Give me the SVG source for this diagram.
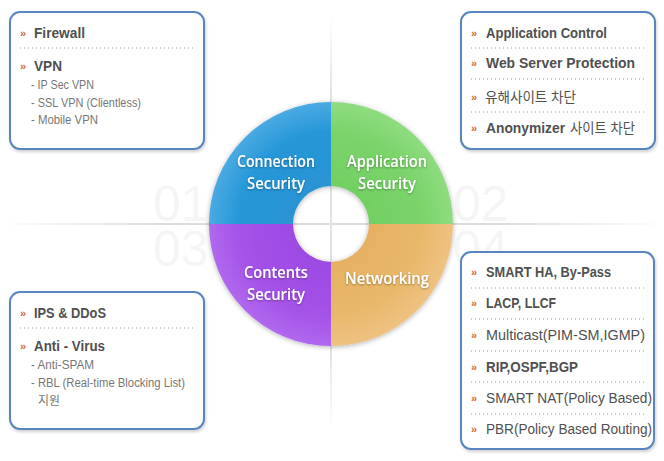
<svg xmlns="http://www.w3.org/2000/svg" width="664" height="461" viewBox="0 0 664 461">
<style>
.box{fill:#fff;stroke:#5a86bf;stroke-width:2}
.dot{stroke:#9a9a9a;stroke-width:1;stroke-dasharray:1 3}
.chev{font-family:"Liberation Sans",sans-serif;font-size:11px;font-weight:bold;fill:#d06a3a}
.m{font-family:"Liberation Sans","Noto Sans CJK KR",sans-serif;font-size:14px;font-weight:bold;fill:#505050}
.r{font-family:"Liberation Sans","Noto Sans CJK KR",sans-serif;font-size:14px;fill:#505050}
.s{font-family:"Liberation Sans","Noto Sans CJK KR",sans-serif;font-size:12.5px;fill:#777}
.q{font-family:"Open Sans","Liberation Sans",sans-serif;font-size:17px;font-weight:600;fill:#fff;text-anchor:middle}
.wm{font-family:"Liberation Sans",sans-serif;font-size:50px;fill:#f5f5f5}
</style>
<defs>
<filter id="sh" x="-10%" y="-10%" width="120%" height="125%">
<feDropShadow dx="1" dy="2" stdDeviation="1.5" flood-color="#000" flood-opacity="0.18"/>
</filter>
<filter id="csh" x="-10%" y="-10%" width="120%" height="120%">
<feDropShadow dx="0" dy="1" stdDeviation="2.5" flood-color="#000" flood-opacity="0.3"/>
</filter>
<filter id="tsh" x="-10%" y="-20%" width="120%" height="140%">
<feDropShadow dx="0" dy="1" stdDeviation="0.8" flood-color="#000" flood-opacity="0.35"/>
</filter>
<linearGradient id="hl" x1="0" y1="0" x2="664" y2="0" gradientUnits="userSpaceOnUse">
<stop offset="0" stop-color="#dcdcdc" stop-opacity="0"/>
<stop offset="0.25" stop-color="#dcdcdc"/>
<stop offset="0.75" stop-color="#dcdcdc"/>
<stop offset="1" stop-color="#dcdcdc" stop-opacity="0"/>
</linearGradient>
<linearGradient id="vl" x1="0" y1="15" x2="0" y2="430" gradientUnits="userSpaceOnUse">
<stop offset="0" stop-color="#e2e2e2" stop-opacity="0"/>
<stop offset="0.2" stop-color="#e2e2e2"/>
<stop offset="0.8" stop-color="#e2e2e2"/>
<stop offset="1" stop-color="#e2e2e2" stop-opacity="0"/>
</linearGradient>
<radialGradient id="gb" cx="331" cy="224" r="122" gradientUnits="userSpaceOnUse">
<stop offset="0.3" stop-color="#2a93d4"/><stop offset="0.75" stop-color="#2597d8"/><stop offset="1" stop-color="#4aaae2"/>
</radialGradient>
<radialGradient id="gg" cx="331" cy="224" r="122" gradientUnits="userSpaceOnUse">
<stop offset="0.3" stop-color="#72cf63"/><stop offset="0.75" stop-color="#7bd46b"/><stop offset="1" stop-color="#8fdc80"/>
</radialGradient>
<radialGradient id="gp" cx="331" cy="224" r="122" gradientUnits="userSpaceOnUse">
<stop offset="0.3" stop-color="#9d4ae3"/><stop offset="0.75" stop-color="#a452e8"/><stop offset="1" stop-color="#b068ee"/>
</radialGradient>
<radialGradient id="go" cx="331" cy="224" r="122" gradientUnits="userSpaceOnUse">
<stop offset="0.3" stop-color="#e6b062"/><stop offset="0.75" stop-color="#e9b86b"/><stop offset="1" stop-color="#eec282"/>
</radialGradient>
</defs>
<rect width="664" height="461" fill="#fff"/>
<g id="background">
<text class="wm" x="153" y="221">01</text>
<text class="wm" x="153" y="266">03</text>
<text class="wm" x="453" y="221">02</text>
<text class="wm" x="453" y="266">04</text>
<rect x="10" y="223" width="654" height="2" fill="url(#hl)"/>
<rect x="330" y="15" width="2" height="415" fill="url(#vl)"/>
</g>
<g id="ring" filter="url(#csh)">
<path d="M209,224 A122,122 0 0 1 331,102 L331,186 A38,38 0 0 0 293,224 Z" fill="url(#gb)"/>
<path d="M331,102 A122,122 0 0 1 453,224 L369,224 A38,38 0 0 0 331,186 Z" fill="url(#gg)"/>
<path d="M453,224 A122,122 0 0 1 331,346 L331,262 A38,38 0 0 0 369,224 Z" fill="url(#go)"/>
<path d="M331,346 A122,122 0 0 1 209,224 L293,224 A38,38 0 0 0 331,262 Z" fill="url(#gp)"/>
</g>
<g id="ring-labels" filter="url(#tsh)">
<text class="q" x="276" y="167" textLength="78" lengthAdjust="spacingAndGlyphs">Connection</text>
<text class="q" x="276" y="189" textLength="58" lengthAdjust="spacingAndGlyphs">Security</text>
<text class="q" x="387" y="167" textLength="80" lengthAdjust="spacingAndGlyphs">Application</text>
<text class="q" x="387" y="189" textLength="58" lengthAdjust="spacingAndGlyphs">Security</text>
<text class="q" x="276" y="278" textLength="64" lengthAdjust="spacingAndGlyphs">Contents</text>
<text class="q" x="276" y="300" textLength="58" lengthAdjust="spacingAndGlyphs">Security</text>
<text class="q" x="387" y="284" textLength="84" lengthAdjust="spacingAndGlyphs">Networking</text>
</g>
<g id="box-connection">
<rect class="box" x="10" y="12" width="194" height="137" rx="10" filter="url(#sh)"/>
<text class="chev" x="20" y="37">»</text>
<text class="m" x="34" y="38" textLength="51" lengthAdjust="spacingAndGlyphs">Firewall</text>
<line class="dot" x1="20" y1="48" x2="194" y2="48"/>
<text class="chev" x="20" y="70">»</text>
<text class="m" x="34" y="71" textLength="28" lengthAdjust="spacingAndGlyphs">VPN</text>
<text class="s" x="31" y="89" textLength="63" lengthAdjust="spacingAndGlyphs">- IP Sec VPN</text>
<text class="s" x="31" y="107" textLength="110" lengthAdjust="spacingAndGlyphs">- SSL VPN (Clientless)</text>
<text class="s" x="31" y="124" textLength="67" lengthAdjust="spacingAndGlyphs">- Mobile VPN</text>
</g>
<g id="box-application">
<rect class="box" x="461" y="12" width="194" height="137" rx="10" filter="url(#sh)"/>
<text class="chev" x="471" y="37">»</text>
<text class="m" x="486" y="38" textLength="121" lengthAdjust="spacingAndGlyphs">Application Control</text>
<line class="dot" x1="471" y1="48" x2="645" y2="48"/>
<text class="chev" x="471" y="67">»</text>
<text class="m" x="486" y="68" textLength="149" lengthAdjust="spacingAndGlyphs">Web Server Protection</text>
<line class="dot" x1="471" y1="79" x2="645" y2="79"/>
<text class="chev" x="471" y="101">»</text>
<text class="r" x="485" y="102" textLength="91" lengthAdjust="spacingAndGlyphs">유해사이트 차단</text>
<line class="dot" x1="471" y1="112" x2="645" y2="112"/>
<text class="chev" x="471" y="132">»</text>
<text class="m" x="486" y="133" textLength="79" lengthAdjust="spacingAndGlyphs">Anonymizer</text>
<text class="r" x="570" y="133" textLength="65" lengthAdjust="spacingAndGlyphs">사이트 차단</text>
</g>
<g id="box-contents">
<rect class="box" x="10" y="292" width="194" height="137" rx="10" filter="url(#sh)"/>
<text class="chev" x="20" y="317">»</text>
<text class="m" x="34" y="318" textLength="72" lengthAdjust="spacingAndGlyphs">IPS &amp; DDoS</text>
<line class="dot" x1="20" y1="328" x2="194" y2="328"/>
<text class="chev" x="20" y="350">»</text>
<text class="m" x="34" y="351" textLength="71" lengthAdjust="spacingAndGlyphs">Anti - Virus</text>
<text class="s" x="31" y="369" textLength="63" lengthAdjust="spacingAndGlyphs">- Anti-SPAM</text>
<text class="s" x="31" y="387" textLength="154" lengthAdjust="spacingAndGlyphs">- RBL (Real-time Blocking List)</text>
<text class="s" x="38" y="405" textLength="22" lengthAdjust="spacingAndGlyphs">지원</text>
</g>
<g id="box-networking">
<rect class="box" x="461" y="252" width="193" height="197" rx="10" filter="url(#sh)"/>
<text class="chev" x="471" y="276">»</text>
<text class="m" x="486" y="277" textLength="125" lengthAdjust="spacingAndGlyphs">SMART HA, By-Pass</text>
<line class="dot" x1="471" y1="288" x2="645" y2="288"/>
<text class="chev" x="471" y="307">»</text>
<text class="m" x="486" y="308" textLength="70" lengthAdjust="spacingAndGlyphs">LACP, LLCF</text>
<line class="dot" x1="471" y1="319" x2="645" y2="319"/>
<text class="chev" x="471" y="339">»</text>
<text class="r" x="486" y="340" textLength="159" lengthAdjust="spacingAndGlyphs">Multicast(PIM-SM,IGMP)</text>
<line class="dot" x1="471" y1="351" x2="645" y2="351"/>
<text class="chev" x="471" y="371">»</text>
<text class="m" x="486" y="372" textLength="92" lengthAdjust="spacingAndGlyphs">RIP,OSPF,BGP</text>
<line class="dot" x1="471" y1="382" x2="645" y2="382"/>
<text class="chev" x="471" y="402">»</text>
<text class="r" x="486" y="403" textLength="166" lengthAdjust="spacingAndGlyphs">SMART NAT(Policy Based)</text>
<line class="dot" x1="471" y1="414" x2="645" y2="414"/>
<text class="chev" x="471" y="433">»</text>
<text class="r" x="486" y="434" textLength="166" lengthAdjust="spacingAndGlyphs">PBR(Policy Based Routing)</text>
</g>
</svg>
